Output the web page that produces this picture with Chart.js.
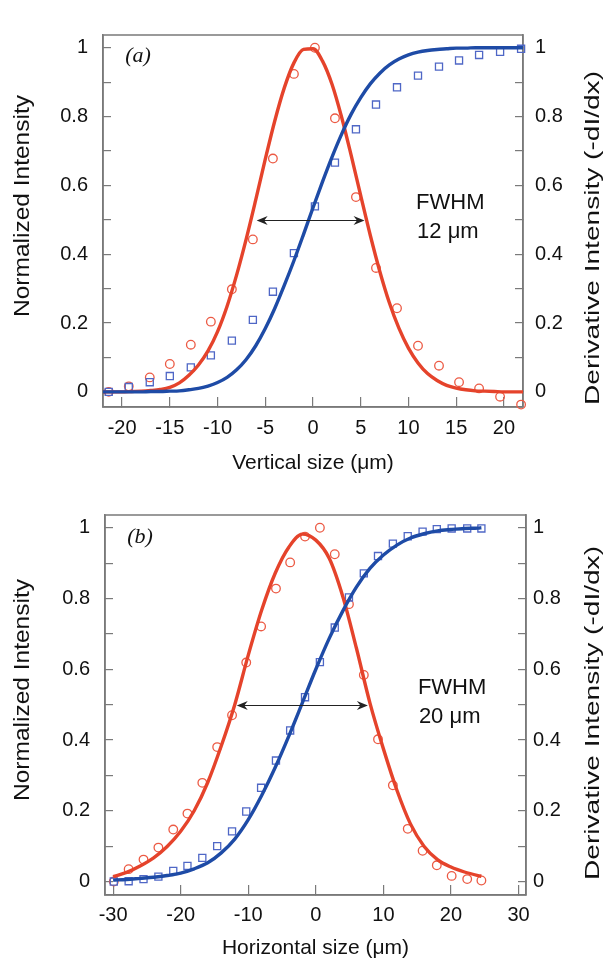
<!DOCTYPE html>
<html><head><meta charset="utf-8">
<script src="https://cdn.jsdelivr.net/npm/chart.js@4"></script>
<style>
html,body{margin:0;padding:0;background:#fff;width:610px;height:962px;overflow:hidden;}
.wrap{position:absolute;left:0;width:610px;height:482px;}
canvas{display:block;}
</style></head><body>
<div class="wrap" style="top:0px"><canvas id="ca" width="610" height="482"></canvas></div>
<div class="wrap" style="top:480px"><canvas id="cb" width="610" height="482"></canvas></div>
<script>
// ---------- Panel (a): vertical profile ----------
const aFitX = [-22,-21,-20,-19,-18,-17,-16,-15,-14,-13,-12,-11,-10,-9,-8,-7,-6,-5,-4,-3,-2,-1,0,1,2,3,4,5,6,7,8,9,10,11,12,13,14,15,16,17,18,19,20,21,22];
const aDerivFit = [0,0,0,0.001,0.002,0.004,0.007,0.013,0.026,0.048,0.078,0.119,0.175,0.249,0.340,0.444,0.558,0.676,0.788,0.884,0.956,0.995,0.997,0.961,0.893,0.798,0.687,0.570,0.455,0.350,0.259,0.185,0.127,0.084,0.053,0.033,0.019,0.011,0.006,0.003,0.002,0.001,0,0,0];
const aIntFit = [0,0,0,0,0,0.001,0.001,0.002,0.003,0.006,0.010,0.017,0.027,0.042,0.064,0.094,0.134,0.184,0.243,0.310,0.381,0.457,0.535,0.611,0.683,0.749,0.807,0.855,0.895,0.926,0.950,0.967,0.979,0.987,0.992,0.995,0.997,0.999,0.999,1,1,1,1,1,1];
const aPtX = [-21.4,-19.3,-17.1,-15.0,-12.8,-10.7,-8.5,-6.3,-4.2,-2.0,0.2,2.3,4.5,6.6,8.8,11.0,13.2,15.3,17.4,19.6,21.8];
const aDerivPts = [0,0.016,0.042,0.081,0.137,0.204,0.298,0.443,0.678,0.924,1.000,0.795,0.566,0.360,0.243,0.134,0.076,0.028,0.010,-0.014,-0.037];
const aIntPts = [0,0.014,0.028,0.046,0.071,0.106,0.149,0.209,0.291,0.403,0.539,0.666,0.763,0.835,0.885,0.919,0.945,0.963,0.979,0.988,0.997];
const aArrow = [-5.9, 5.4];
const aXTitle = 'Vertical size (\u03BCm)';
const aFwhm = '12 \u03BCm';

// ---------- Panel (b): horizontal profile ----------
const bFitX = [-30,-28,-26,-24,-22,-20,-18,-16,-14,-12,-10,-8,-6,-4,-2,0,2,4,6,8,10,12,14,16,18,20,22,24,24.5];
const bDerivFit = [0.014,0.026,0.044,0.067,0.099,0.142,0.200,0.280,0.383,0.500,0.640,0.768,0.872,0.945,0.982,0.965,0.913,0.805,0.660,0.505,0.375,0.258,0.163,0.100,0.062,0.041,0.027,0.017,0.015];
const bIntFit = [0.004,0.006,0.009,0.012,0.017,0.024,0.036,0.053,0.081,0.120,0.175,0.244,0.323,0.411,0.505,0.600,0.688,0.765,0.832,0.885,0.923,0.951,0.971,0.983,0.991,0.995,0.998,0.999,1.000];
const bPtX = [-29.9,-27.7,-25.5,-23.3,-21.1,-19.0,-16.8,-14.6,-12.4,-10.3,-8.1,-5.9,-3.8,-1.6,0.6,2.8,4.9,7.1,9.2,11.4,13.6,15.8,17.9,20.1,22.4,24.5];
const bDerivPts = [0,0.035,0.062,0.096,0.147,0.192,0.279,0.380,0.470,0.619,0.721,0.828,0.902,0.975,1.000,0.925,0.784,0.584,0.402,0.272,0.149,0.087,0.046,0.016,0.007,0.003];
const bIntPts = [0,0.001,0.007,0.014,0.030,0.044,0.067,0.100,0.142,0.198,0.265,0.342,0.427,0.521,0.620,0.718,0.803,0.871,0.920,0.955,0.976,0.989,0.996,0.998,0.998,0.998];
const bArrow = [-11.7, 7.7];
const bXTitle = 'Horizontal size (\u03BCm)';
const bFwhm = '20 \u03BCm';

const yTitleLeft = 'Normalized Intensity';
const yTitleRight = 'Derivative Intensity (-dI/dx)';

const FONT = "'Liberation Sans', Arial, Helvetica, sans-serif";
const RED = '#E5432B', RED_PT = '#EC5A44', BLUE = '#1E4BA6', BLUE_PT = '#4F67C6';
const AXIS = '#7a7a7a', TXT = '#111';

function pts(xs, ys) { return xs.map((x, i) => ({x: x, y: ys[i]})); }

function vtitle(ctx, text, cx, cy, size, len) {
  ctx.save();
  ctx.font = size + 'px ' + FONT;
  const w = ctx.measureText(text).width;
  ctx.translate(cx, cy);
  ctx.rotate(-Math.PI / 2);
  ctx.scale(len / w, 1);
  ctx.textAlign = 'center'; ctx.textBaseline = 'middle'; ctx.fillStyle = TXT;
  ctx.fillText(text, 0, 0);
  ctx.restore();
}
function head(ctx, x, y, dir) {
  ctx.beginPath();
  ctx.moveTo(x, y);
  ctx.lineTo(x + dir * 11, y - 4.5);
  ctx.lineTo(x + dir * 7.5, y);
  ctx.lineTo(x + dir * 11, y + 4.5);
  ctx.closePath();
  ctx.fill();
}

function annoPlugin(o) {
  return {
    id: 'anno',
    beforeDatasetsDraw(chart) {
      const a = chart.chartArea, ctx = chart.ctx;
      ctx.save(); ctx.strokeStyle = AXIS; ctx.lineWidth = 1.5;
      ctx.strokeRect(a.left, a.top, a.right - a.left, a.bottom - a.top);
      ctx.restore();
    },
    afterDraw(chart) {
      const ctx = chart.ctx, x = chart.scales.x, y = chart.scales.y, a = chart.chartArea;
      ctx.save();
      const yy = Math.round(y.getPixelForValue(0.5)) + 0.5;
      const x1 = x.getPixelForValue(o.arrow[0]), x2 = x.getPixelForValue(o.arrow[1]);
      ctx.strokeStyle = '#222'; ctx.fillStyle = '#222'; ctx.lineWidth = 1;
      ctx.beginPath(); ctx.moveTo(x1 + 4, yy); ctx.lineTo(x2 - 4, yy); ctx.stroke();
      head(ctx, x1, yy, 1); head(ctx, x2, yy, -1);
      ctx.fillStyle = TXT; ctx.font = '22px ' + FONT; ctx.textAlign = 'left'; ctx.textBaseline = 'middle';
      ctx.fillText('FWHM', x.getPixelForValue(o.textX), y.getPixelForValue(0.548));
      ctx.fillText(o.fwhm, x.getPixelForValue(o.textX) + 1, y.getPixelForValue(0.465));
      ctx.font = "italic 22px 'Liberation Serif', 'Times New Roman', serif";
      ctx.textAlign = 'center';
      ctx.fillText(o.label, a.left + 35, a.top + o.labelDy);
      ctx.restore();
      vtitle(ctx, yTitleLeft, 23, o.ltY, 22, 222);
      vtitle(ctx, yTitleRight, 593, o.rtY, 20, 334);
    }
  };
}

function yScale(pos, min, max, w, pad) {
  return {
    type: 'linear', position: pos, min: min, max: max,
    afterFit: s => { s.width = w; },
    ticks: {
      stepSize: 0.1, includeBounds: false, padding: pad, color: TXT,
      font: {family: FONT, size: 20},
      callback: v => { const k = Math.round(v * 10); if (k % 2) return ''; return k === 0 ? '0' : (k === 10 ? '1' : (k / 10).toFixed(1)); }
    },
    grid: {drawOnChartArea: false, drawTicks: true, tickLength: -8, color: AXIS, lineWidth: 1.2},
    border: {display: true, color: AXIS, width: 1.5}
  };
}

function build(id, P) {
  new Chart(document.getElementById(id), {
    type: 'scatter',
    data: {datasets: [
      {data: pts(P.fitX, P.intFit), showLine: true, borderColor: BLUE, borderWidth: 3.4, pointRadius: 0, cubicInterpolationMode: 'monotone', yAxisID: 'y'},
      {data: pts(P.fitX, P.derivFit), showLine: true, borderColor: RED, borderWidth: 3.4, pointRadius: 0, cubicInterpolationMode: 'monotone', yAxisID: 'y2'},
      {data: pts(P.ptX, P.intPts), showLine: false, pointStyle: 'rect', pointRadius: 5, borderColor: BLUE_PT, backgroundColor: 'rgba(0,0,0,0)', borderWidth: 1.3, clip: false, yAxisID: 'y'},
      {data: pts(P.ptX, P.derivPts), showLine: false, pointStyle: 'circle', pointRadius: 4.3, borderColor: RED_PT, backgroundColor: 'rgba(0,0,0,0)', borderWidth: 1.3, clip: false, yAxisID: 'y2'}
    ]},
    options: {
      responsive: false, animation: false, devicePixelRatio: 1, events: [],
      layout: {padding: {top: P.padTop, left: 0, right: 0, bottom: 0}},
      plugins: {legend: {display: false}, tooltip: {enabled: false}},
      scales: {
        x: {
          type: 'linear', position: 'bottom', min: P.xmin, max: P.xmax,
          afterFit: s => { s.height = P.xH; },
          ticks: {stepSize: P.xstep, includeBounds: false, padding: P.xPad, color: TXT, maxRotation: 0, autoSkip: false,
                  font: {family: FONT, size: 20}, callback: v => String(v)},
          grid: {drawOnChartArea: false, drawTicks: true, tickLength: -10, color: AXIS, lineWidth: 1.2},
          border: {display: true, color: AXIS, width: 1.5},
          title: {display: true, text: P.xTitle, color: TXT, font: {family: FONT, size: 21}, padding: {top: 0, bottom: P.xTitlePad}}
        },
        y: yScale('left', P.ymin, P.ymax, P.yW, 23),
        y2: yScale('right', P.ymin, P.ymax, P.y2W, P.y2Pad)
      }
    },
    plugins: [annoPlugin(P.anno)]
  });
}

build('ca', {
  fitX: aFitX, derivFit: aDerivFit, intFit: aIntFit, ptX: aPtX, derivPts: aDerivPts, intPts: aIntPts,
  xmin: -22, xmax: 22, xstep: 5, ymin: -0.044, ymax: 1.037,
  padTop: 14, xH: 75, yW: 103, y2W: 87, xPad: 19, y2Pad: 20, xTitle: aXTitle, xTitlePad: 6.4,
  anno: {arrow: aArrow, textX: 10.8, fwhm: aFwhm, label: '(a)', labelDy: 21, ltY: 206, rtY: 238}
});
build('cb', {
  fitX: bFitX, derivFit: bDerivFit, intFit: bIntFit, ptX: bPtX, derivPts: bDerivPts, intPts: bIntPts,
  xmin: -31.2, xmax: 31.1, xstep: 10, ymin: -0.038, ymax: 1.036,
  padTop: 23, xH: 67, yW: 105, y2W: 84, xPad: 18, y2Pad: 15, xTitle: bXTitle, xTitlePad: 1.4,
  anno: {arrow: bArrow, textX: 15.1, fwhm: bFwhm, label: '(b)', labelDy: 22, ltY: 210, rtY: 233}
});
</script>
</body></html>
